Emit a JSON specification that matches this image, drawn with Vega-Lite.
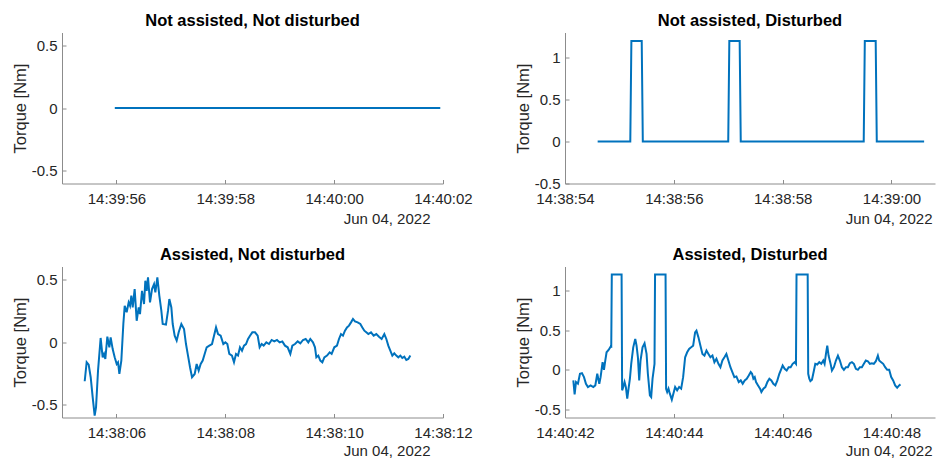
{
  "$schema": "https://vega.github.io/schema/vega-lite/v6.json",
  "background": "white",
  "padding": {"left": 12, "top": 12.5, "right": 2, "bottom": 2},
  "columns": 2,
  "align": "each",
  "bounds": "flush",
  "spacing": {"row": 83, "column": 122},
  "datasets": {
    "p1": [
      {"t": "2022-06-04T14:39:55.970", "v": 0},
      {"t": "2022-06-04T14:39:57.000", "v": 0},
      {"t": "2022-06-04T14:39:59.000", "v": 0},
      {"t": "2022-06-04T14:40:01.000", "v": 0},
      {"t": "2022-06-04T14:40:01.950", "v": 0}
    ],
    "p2": [
      {"t": "2022-06-04T14:38:54.600", "v": 0},
      {"t": "2022-06-04T14:38:55.200", "v": 0},
      {"t": "2022-06-04T14:38:55.220", "v": 1.2},
      {"t": "2022-06-04T14:38:55.410", "v": 1.2},
      {"t": "2022-06-04T14:38:55.430", "v": 0},
      {"t": "2022-06-04T14:38:57.000", "v": 0},
      {"t": "2022-06-04T14:38:57.020", "v": 1.2},
      {"t": "2022-06-04T14:38:57.210", "v": 1.2},
      {"t": "2022-06-04T14:38:57.230", "v": 0},
      {"t": "2022-06-04T14:38:59.490", "v": 0},
      {"t": "2022-06-04T14:38:59.510", "v": 1.2},
      {"t": "2022-06-04T14:38:59.710", "v": 1.2},
      {"t": "2022-06-04T14:38:59.730", "v": 0},
      {"t": "2022-06-04T14:39:00.600", "v": 0}
    ],
    "p3": [
      {"t": "2022-06-04T14:38:05.417", "v": -0.312},
      {"t": "2022-06-04T14:38:05.453", "v": -0.161},
      {"t": "2022-06-04T14:38:05.490", "v": -0.18},
      {"t": "2022-06-04T14:38:05.527", "v": -0.28},
      {"t": "2022-06-04T14:38:05.564", "v": -0.44},
      {"t": "2022-06-04T14:38:05.600", "v": -0.585},
      {"t": "2022-06-04T14:38:05.625", "v": -0.52},
      {"t": "2022-06-04T14:38:05.662", "v": -0.227},
      {"t": "2022-06-04T14:38:05.710", "v": 0.032},
      {"t": "2022-06-04T14:38:05.747", "v": -0.122},
      {"t": "2022-06-04T14:38:05.772", "v": -0.095},
      {"t": "2022-06-04T14:38:05.796", "v": -0.135},
      {"t": "2022-06-04T14:38:05.833", "v": 0.042},
      {"t": "2022-06-04T14:38:05.870", "v": -0.042},
      {"t": "2022-06-04T14:38:05.894", "v": 0.037},
      {"t": "2022-06-04T14:38:05.931", "v": -0.056},
      {"t": "2022-06-04T14:38:05.968", "v": -0.122},
      {"t": "2022-06-04T14:38:06.005", "v": -0.175},
      {"t": "2022-06-04T14:38:06.029", "v": -0.161},
      {"t": "2022-06-04T14:38:06.054", "v": -0.254},
      {"t": "2022-06-04T14:38:06.090", "v": -0.148},
      {"t": "2022-06-04T14:38:06.127", "v": 0.143},
      {"t": "2022-06-04T14:38:06.152", "v": 0.288},
      {"t": "2022-06-04T14:38:06.188", "v": 0.236},
      {"t": "2022-06-04T14:38:06.225", "v": 0.315},
      {"t": "2022-06-04T14:38:06.250", "v": 0.288},
      {"t": "2022-06-04T14:38:06.274", "v": 0.368},
      {"t": "2022-06-04T14:38:06.299", "v": 0.275},
      {"t": "2022-06-04T14:38:06.335", "v": 0.421},
      {"t": "2022-06-04T14:38:06.372", "v": 0.169},
      {"t": "2022-06-04T14:38:06.409", "v": 0.275},
      {"t": "2022-06-04T14:38:06.433", "v": 0.222},
      {"t": "2022-06-04T14:38:06.470", "v": 0.407},
      {"t": "2022-06-04T14:38:06.507", "v": 0.302},
      {"t": "2022-06-04T14:38:06.531", "v": 0.487},
      {"t": "2022-06-04T14:38:06.556", "v": 0.407},
      {"t": "2022-06-04T14:38:06.580", "v": 0.513},
      {"t": "2022-06-04T14:38:06.617", "v": 0.315},
      {"t": "2022-06-04T14:38:06.654", "v": 0.421},
      {"t": "2022-06-04T14:38:06.691", "v": 0.46},
      {"t": "2022-06-04T14:38:06.715", "v": 0.394},
      {"t": "2022-06-04T14:38:06.752", "v": 0.513},
      {"t": "2022-06-04T14:38:06.788", "v": 0.368},
      {"t": "2022-06-04T14:38:06.825", "v": 0.249},
      {"t": "2022-06-04T14:38:06.850", "v": 0.143},
      {"t": "2022-06-04T14:38:06.910", "v": 0.138},
      {"t": "2022-06-04T14:38:06.948", "v": 0.249},
      {"t": "2022-06-04T14:38:06.972", "v": 0.341},
      {"t": "2022-06-04T14:38:07.009", "v": 0.275},
      {"t": "2022-06-04T14:38:07.034", "v": 0.143},
      {"t": "2022-06-04T14:38:07.070", "v": 0.05},
      {"t": "2022-06-04T14:38:07.107", "v": 0.011},
      {"t": "2022-06-04T14:38:07.144", "v": 0.077},
      {"t": "2022-06-04T14:38:07.193", "v": 0.143},
      {"t": "2022-06-04T14:38:07.242", "v": 0.103},
      {"t": "2022-06-04T14:38:07.278", "v": -0.016},
      {"t": "2022-06-04T14:38:07.315", "v": -0.108},
      {"t": "2022-06-04T14:38:07.352", "v": -0.201},
      {"t": "2022-06-04T14:38:07.389", "v": -0.28},
      {"t": "2022-06-04T14:38:07.438", "v": -0.254},
      {"t": "2022-06-04T14:38:07.474", "v": -0.175},
      {"t": "2022-06-04T14:38:07.511", "v": -0.227},
      {"t": "2022-06-04T14:38:07.548", "v": -0.175},
      {"t": "2022-06-04T14:38:07.585", "v": -0.148},
      {"t": "2022-06-04T14:38:07.621", "v": -0.095},
      {"t": "2022-06-04T14:38:07.658", "v": -0.042},
      {"t": "2022-06-04T14:38:07.707", "v": -0.029},
      {"t": "2022-06-04T14:38:07.756", "v": -0.016},
      {"t": "2022-06-04T14:38:07.793", "v": 0.05},
      {"t": "2022-06-04T14:38:07.830", "v": 0.116},
      {"t": "2022-06-04T14:38:07.867", "v": 0.063},
      {"t": "2022-06-04T14:38:07.915", "v": 0.05},
      {"t": "2022-06-04T14:38:07.964", "v": -0.016},
      {"t": "2022-06-04T14:38:08.001", "v": -0.003},
      {"t": "2022-06-04T14:38:08.038", "v": -0.016},
      {"t": "2022-06-04T14:38:08.074", "v": -0.095},
      {"t": "2022-06-04T14:38:08.123", "v": -0.108},
      {"t": "2022-06-04T14:38:08.160", "v": -0.161},
      {"t": "2022-06-04T14:38:08.197", "v": -0.095},
      {"t": "2022-06-04T14:38:08.234", "v": -0.108},
      {"t": "2022-06-04T14:38:08.270", "v": -0.042},
      {"t": "2022-06-04T14:38:08.307", "v": -0.069},
      {"t": "2022-06-04T14:38:08.344", "v": -0.029},
      {"t": "2022-06-04T14:38:08.381", "v": -0.016},
      {"t": "2022-06-04T14:38:08.418", "v": 0.024},
      {"t": "2022-06-04T14:38:08.454", "v": 0.05},
      {"t": "2022-06-04T14:38:08.497", "v": 0.077},
      {"t": "2022-06-04T14:38:08.546", "v": 0.077},
      {"t": "2022-06-04T14:38:08.595", "v": 0.05},
      {"t": "2022-06-04T14:38:08.631", "v": -0.042},
      {"t": "2022-06-04T14:38:08.668", "v": -0.016},
      {"t": "2022-06-04T14:38:08.705", "v": -0.029},
      {"t": "2022-06-04T14:38:08.754", "v": -0.003},
      {"t": "2022-06-04T14:38:08.803", "v": -0.016},
      {"t": "2022-06-04T14:38:08.852", "v": 0.016},
      {"t": "2022-06-04T14:38:08.901", "v": 0.005},
      {"t": "2022-06-04T14:38:08.950", "v": 0.016},
      {"t": "2022-06-04T14:38:08.999", "v": -0.003},
      {"t": "2022-06-04T14:38:09.048", "v": 0.005},
      {"t": "2022-06-04T14:38:09.097", "v": -0.029},
      {"t": "2022-06-04T14:38:09.146", "v": -0.042},
      {"t": "2022-06-04T14:38:09.195", "v": -0.095},
      {"t": "2022-06-04T14:38:09.232", "v": -0.029},
      {"t": "2022-06-04T14:38:09.281", "v": -0.016},
      {"t": "2022-06-04T14:38:09.330", "v": 0.005},
      {"t": "2022-06-04T14:38:09.379", "v": -0.011},
      {"t": "2022-06-04T14:38:09.428", "v": 0.016},
      {"t": "2022-06-04T14:38:09.477", "v": 0.024},
      {"t": "2022-06-04T14:38:09.525", "v": -0.003},
      {"t": "2022-06-04T14:38:09.562", "v": 0.024},
      {"t": "2022-06-04T14:38:09.611", "v": -0.003},
      {"t": "2022-06-04T14:38:09.648", "v": -0.042},
      {"t": "2022-06-04T14:38:09.673", "v": -0.122},
      {"t": "2022-06-04T14:38:09.709", "v": -0.108},
      {"t": "2022-06-04T14:38:09.746", "v": -0.148},
      {"t": "2022-06-04T14:38:09.783", "v": -0.161},
      {"t": "2022-06-04T14:38:09.820", "v": -0.122},
      {"t": "2022-06-04T14:38:09.869", "v": -0.108},
      {"t": "2022-06-04T14:38:09.918", "v": -0.082},
      {"t": "2022-06-04T14:38:09.954", "v": -0.095},
      {"t": "2022-06-04T14:38:10.003", "v": -0.042},
      {"t": "2022-06-04T14:38:10.052", "v": -0.029},
      {"t": "2022-06-04T14:38:10.089", "v": 0.024},
      {"t": "2022-06-04T14:38:10.126", "v": 0.063},
      {"t": "2022-06-04T14:38:10.162", "v": 0.05},
      {"t": "2022-06-04T14:38:10.199", "v": 0.09},
      {"t": "2022-06-04T14:38:10.236", "v": 0.116},
      {"t": "2022-06-04T14:38:10.273", "v": 0.13},
      {"t": "2022-06-04T14:38:10.310", "v": 0.156},
      {"t": "2022-06-04T14:38:10.346", "v": 0.183},
      {"t": "2022-06-04T14:38:10.383", "v": 0.164},
      {"t": "2022-06-04T14:38:10.432", "v": 0.156},
      {"t": "2022-06-04T14:38:10.481", "v": 0.143},
      {"t": "2022-06-04T14:38:10.518", "v": 0.116},
      {"t": "2022-06-04T14:38:10.555", "v": 0.09},
      {"t": "2022-06-04T14:38:10.591", "v": 0.077},
      {"t": "2022-06-04T14:38:10.628", "v": 0.063},
      {"t": "2022-06-04T14:38:10.677", "v": 0.077},
      {"t": "2022-06-04T14:38:10.726", "v": 0.05},
      {"t": "2022-06-04T14:38:10.775", "v": 0.063},
      {"t": "2022-06-04T14:38:10.824", "v": 0.042},
      {"t": "2022-06-04T14:38:10.873", "v": 0.024},
      {"t": "2022-06-04T14:38:10.922", "v": 0.063},
      {"t": "2022-06-04T14:38:10.959", "v": 0.024},
      {"t": "2022-06-04T14:38:10.995", "v": -0.029},
      {"t": "2022-06-04T14:38:11.032", "v": -0.069},
      {"t": "2022-06-04T14:38:11.069", "v": -0.108},
      {"t": "2022-06-04T14:38:11.105", "v": -0.09},
      {"t": "2022-06-04T14:38:11.142", "v": -0.108},
      {"t": "2022-06-04T14:38:11.179", "v": -0.122},
      {"t": "2022-06-04T14:38:11.216", "v": -0.108},
      {"t": "2022-06-04T14:38:11.252", "v": -0.127},
      {"t": "2022-06-04T14:38:11.289", "v": -0.116},
      {"t": "2022-06-04T14:38:11.326", "v": -0.143},
      {"t": "2022-06-04T14:38:11.363", "v": -0.135},
      {"t": "2022-06-04T14:38:11.400", "v": -0.108}
    ],
    "p4": [
      {"t": "2022-06-04T14:40:42.153", "v": -0.133},
      {"t": "2022-06-04T14:40:42.177", "v": -0.308},
      {"t": "2022-06-04T14:40:42.202", "v": -0.154},
      {"t": "2022-06-04T14:40:42.238", "v": -0.175},
      {"t": "2022-06-04T14:40:42.275", "v": -0.05},
      {"t": "2022-06-04T14:40:42.312", "v": -0.042},
      {"t": "2022-06-04T14:40:42.349", "v": -0.092},
      {"t": "2022-06-04T14:40:42.385", "v": -0.175},
      {"t": "2022-06-04T14:40:42.422", "v": -0.217},
      {"t": "2022-06-04T14:40:42.471", "v": -0.196},
      {"t": "2022-06-04T14:40:42.520", "v": -0.217},
      {"t": "2022-06-04T14:40:42.557", "v": -0.196},
      {"t": "2022-06-04T14:40:42.593", "v": -0.05},
      {"t": "2022-06-04T14:40:42.630", "v": -0.175},
      {"t": "2022-06-04T14:40:42.654", "v": -0.092},
      {"t": "2022-06-04T14:40:42.691", "v": 0.096},
      {"t": "2022-06-04T14:40:42.716", "v": 0.0},
      {"t": "2022-06-04T14:40:42.740", "v": 0.117},
      {"t": "2022-06-04T14:40:42.764", "v": 0.221},
      {"t": "2022-06-04T14:40:42.801", "v": 0.25},
      {"t": "2022-06-04T14:40:42.838", "v": 0.292},
      {"t": "2022-06-04T14:40:42.850", "v": 0.29},
      {"t": "2022-06-04T14:40:42.860", "v": 1.2},
      {"t": "2022-06-04T14:40:43.040", "v": 1.2},
      {"t": "2022-06-04T14:40:43.050", "v": -0.258},
      {"t": "2022-06-04T14:40:43.070", "v": -0.22},
      {"t": "2022-06-04T14:40:43.095", "v": -0.154},
      {"t": "2022-06-04T14:40:43.119", "v": -0.217},
      {"t": "2022-06-04T14:40:43.144", "v": -0.363},
      {"t": "2022-06-04T14:40:43.168", "v": -0.238},
      {"t": "2022-06-04T14:40:43.193", "v": -0.112},
      {"t": "2022-06-04T14:40:43.217", "v": 0.075},
      {"t": "2022-06-04T14:40:43.254", "v": 0.283},
      {"t": "2022-06-04T14:40:43.291", "v": 0.388},
      {"t": "2022-06-04T14:40:43.315", "v": 0.304},
      {"t": "2022-06-04T14:40:43.340", "v": 0.158},
      {"t": "2022-06-04T14:40:43.364", "v": -0.133},
      {"t": "2022-06-04T14:40:43.388", "v": 0.117},
      {"t": "2022-06-04T14:40:43.425", "v": 0.283},
      {"t": "2022-06-04T14:40:43.462", "v": 0.333},
      {"t": "2022-06-04T14:40:43.499", "v": 0.2},
      {"t": "2022-06-04T14:40:43.523", "v": -0.05},
      {"t": "2022-06-04T14:40:43.560", "v": -0.321},
      {"t": "2022-06-04T14:40:43.584", "v": -0.342},
      {"t": "2022-06-04T14:40:43.609", "v": -0.112},
      {"t": "2022-06-04T14:40:43.633", "v": 0.013},
      {"t": "2022-06-04T14:40:43.645", "v": 0.075},
      {"t": "2022-06-04T14:40:43.655", "v": 1.2},
      {"t": "2022-06-04T14:40:43.848", "v": 1.2},
      {"t": "2022-06-04T14:40:43.858", "v": -0.238},
      {"t": "2022-06-04T14:40:43.878", "v": -0.279},
      {"t": "2022-06-04T14:40:43.902", "v": -0.238},
      {"t": "2022-06-04T14:40:43.927", "v": -0.3},
      {"t": "2022-06-04T14:40:43.963", "v": -0.375},
      {"t": "2022-06-04T14:40:44.000", "v": -0.279},
      {"t": "2022-06-04T14:40:44.024", "v": -0.217},
      {"t": "2022-06-04T14:40:44.061", "v": -0.258},
      {"t": "2022-06-04T14:40:44.098", "v": -0.217},
      {"t": "2022-06-04T14:40:44.135", "v": -0.238},
      {"t": "2022-06-04T14:40:44.171", "v": -0.092},
      {"t": "2022-06-04T14:40:44.208", "v": 0.158},
      {"t": "2022-06-04T14:40:44.245", "v": 0.221},
      {"t": "2022-06-04T14:40:44.281", "v": 0.263},
      {"t": "2022-06-04T14:40:44.318", "v": 0.283},
      {"t": "2022-06-04T14:40:44.355", "v": 0.304},
      {"t": "2022-06-04T14:40:44.391", "v": 0.471},
      {"t": "2022-06-04T14:40:44.416", "v": 0.492},
      {"t": "2022-06-04T14:40:44.453", "v": 0.408},
      {"t": "2022-06-04T14:40:44.489", "v": 0.304},
      {"t": "2022-06-04T14:40:44.526", "v": 0.2},
      {"t": "2022-06-04T14:40:44.563", "v": 0.179},
      {"t": "2022-06-04T14:40:44.600", "v": 0.242},
      {"t": "2022-06-04T14:40:44.636", "v": 0.2},
      {"t": "2022-06-04T14:40:44.673", "v": 0.158},
      {"t": "2022-06-04T14:40:44.710", "v": 0.179},
      {"t": "2022-06-04T14:40:44.746", "v": 0.096},
      {"t": "2022-06-04T14:40:44.783", "v": 0.138},
      {"t": "2022-06-04T14:40:44.820", "v": 0.075},
      {"t": "2022-06-04T14:40:44.856", "v": 0.033},
      {"t": "2022-06-04T14:40:44.893", "v": 0.117},
      {"t": "2022-06-04T14:40:44.930", "v": 0.158},
      {"t": "2022-06-04T14:40:44.966", "v": 0.2},
      {"t": "2022-06-04T14:40:45.003", "v": 0.117},
      {"t": "2022-06-04T14:40:45.040", "v": 0.033},
      {"t": "2022-06-04T14:40:45.076", "v": -0.029},
      {"t": "2022-06-04T14:40:45.113", "v": -0.092},
      {"t": "2022-06-04T14:40:45.150", "v": -0.083},
      {"t": "2022-06-04T14:40:45.193", "v": -0.154},
      {"t": "2022-06-04T14:40:45.230", "v": -0.133},
      {"t": "2022-06-04T14:40:45.266", "v": -0.175},
      {"t": "2022-06-04T14:40:45.303", "v": -0.133},
      {"t": "2022-06-04T14:40:45.340", "v": -0.112},
      {"t": "2022-06-04T14:40:45.377", "v": -0.071},
      {"t": "2022-06-04T14:40:45.413", "v": -0.029},
      {"t": "2022-06-04T14:40:45.438", "v": -0.05},
      {"t": "2022-06-04T14:40:45.462", "v": -0.112},
      {"t": "2022-06-04T14:40:45.487", "v": -0.092},
      {"t": "2022-06-04T14:40:45.511", "v": -0.154},
      {"t": "2022-06-04T14:40:45.548", "v": -0.196},
      {"t": "2022-06-04T14:40:45.585", "v": -0.238},
      {"t": "2022-06-04T14:40:45.609", "v": -0.279},
      {"t": "2022-06-04T14:40:45.646", "v": -0.238},
      {"t": "2022-06-04T14:40:45.682", "v": -0.217},
      {"t": "2022-06-04T14:40:45.719", "v": -0.154},
      {"t": "2022-06-04T14:40:45.756", "v": -0.112},
      {"t": "2022-06-04T14:40:45.792", "v": -0.133},
      {"t": "2022-06-04T14:40:45.829", "v": -0.175},
      {"t": "2022-06-04T14:40:45.866", "v": -0.196},
      {"t": "2022-06-04T14:40:45.903", "v": -0.133},
      {"t": "2022-06-04T14:40:45.939", "v": -0.05},
      {"t": "2022-06-04T14:40:45.976", "v": 0.013},
      {"t": "2022-06-04T14:40:46.000", "v": 0.054},
      {"t": "2022-06-04T14:40:46.037", "v": 0.013},
      {"t": "2022-06-04T14:40:46.074", "v": -0.008},
      {"t": "2022-06-04T14:40:46.110", "v": 0.033},
      {"t": "2022-06-04T14:40:46.147", "v": 0.033},
      {"t": "2022-06-04T14:40:46.184", "v": 0.075},
      {"t": "2022-06-04T14:40:46.221", "v": 0.096},
      {"t": "2022-06-04T14:40:46.245", "v": 0.075},
      {"t": "2022-06-04T14:40:46.255", "v": 1.2},
      {"t": "2022-06-04T14:40:46.460", "v": 1.2},
      {"t": "2022-06-04T14:40:46.470", "v": -0.05},
      {"t": "2022-06-04T14:40:46.490", "v": -0.112},
      {"t": "2022-06-04T14:40:46.510", "v": -0.142},
      {"t": "2022-06-04T14:40:46.539", "v": -0.125},
      {"t": "2022-06-04T14:40:46.575", "v": -0.008},
      {"t": "2022-06-04T14:40:46.600", "v": 0.075},
      {"t": "2022-06-04T14:40:46.636", "v": 0.067},
      {"t": "2022-06-04T14:40:46.673", "v": 0.096},
      {"t": "2022-06-04T14:40:46.710", "v": 0.075},
      {"t": "2022-06-04T14:40:46.747", "v": 0.117},
      {"t": "2022-06-04T14:40:46.771", "v": 0.075},
      {"t": "2022-06-04T14:40:46.796", "v": 0.2},
      {"t": "2022-06-04T14:40:46.820", "v": 0.304},
      {"t": "2022-06-04T14:40:46.844", "v": 0.179},
      {"t": "2022-06-04T14:40:46.881", "v": 0.075},
      {"t": "2022-06-04T14:40:46.906", "v": -0.008},
      {"t": "2022-06-04T14:40:46.942", "v": 0.033},
      {"t": "2022-06-04T14:40:46.979", "v": 0.117},
      {"t": "2022-06-04T14:40:47.016", "v": 0.179},
      {"t": "2022-06-04T14:40:47.052", "v": 0.117},
      {"t": "2022-06-04T14:40:47.089", "v": 0.033},
      {"t": "2022-06-04T14:40:47.126", "v": 0.0},
      {"t": "2022-06-04T14:40:47.163", "v": 0.033},
      {"t": "2022-06-04T14:40:47.199", "v": 0.033},
      {"t": "2022-06-04T14:40:47.236", "v": 0.083},
      {"t": "2022-06-04T14:40:47.273", "v": 0.096},
      {"t": "2022-06-04T14:40:47.309", "v": 0.075},
      {"t": "2022-06-04T14:40:47.346", "v": 0.013},
      {"t": "2022-06-04T14:40:47.383", "v": 0.0},
      {"t": "2022-06-04T14:40:47.419", "v": 0.033},
      {"t": "2022-06-04T14:40:47.456", "v": 0.033},
      {"t": "2022-06-04T14:40:47.493", "v": 0.075},
      {"t": "2022-06-04T14:40:47.529", "v": 0.117},
      {"t": "2022-06-04T14:40:47.566", "v": 0.108},
      {"t": "2022-06-04T14:40:47.603", "v": 0.075},
      {"t": "2022-06-04T14:40:47.640", "v": 0.083},
      {"t": "2022-06-04T14:40:47.676", "v": 0.075},
      {"t": "2022-06-04T14:40:47.713", "v": 0.108},
      {"t": "2022-06-04T14:40:47.750", "v": 0.179},
      {"t": "2022-06-04T14:40:47.774", "v": 0.117},
      {"t": "2022-06-04T14:40:47.811", "v": 0.096},
      {"t": "2022-06-04T14:40:47.848", "v": 0.075},
      {"t": "2022-06-04T14:40:47.884", "v": 0.033},
      {"t": "2022-06-04T14:40:47.921", "v": 0.0},
      {"t": "2022-06-04T14:40:47.958", "v": 0.0},
      {"t": "2022-06-04T14:40:47.995", "v": -0.092},
      {"t": "2022-06-04T14:40:48.031", "v": -0.133},
      {"t": "2022-06-04T14:40:48.068", "v": -0.196},
      {"t": "2022-06-04T14:40:48.105", "v": -0.225},
      {"t": "2022-06-04T14:40:48.141", "v": -0.196},
      {"t": "2022-06-04T14:40:48.166", "v": -0.183}
    ]
  },
  "config": {
    "font": "Liberation Sans",
    "locale": {"number": {"decimal": ".", "thousands": ",", "grouping": [3], "currency": ["$", ""], "minus": "-"}},
    "view": {"stroke": null},
    "axis": {
      "grid": false,
      "domainColor": "#8c8c8c",
      "tickColor": "#8c8c8c",
      "tickSize": -4,
      "labelFontSize": 15,
      "labelColor": "#262626",
      "labelFlush": false,
      "labelOverlap": false,
      "titleFontSize": 16.5,
      "titleFontWeight": "normal",
      "titleColor": "#262626"
    },
    "axisX": {
      "labelBaseline": "alphabetic",
      "labelPadding": 24,
      "titleFontSize": 15,
      "titleAlign": "right",
      "titleBaseline": "alphabetic",
      "titleX": 368,
      "titleY": 40
    },
    "axisY": {
      "labelPadding": 9,
      "titleAngle": -90,
      "titleBaseline": "middle",
      "titleAlign": "center",
      "titleX": -42,
      "titleY": 75.5
    },
    "title": {
      "fontSize": 16.5,
      "fontWeight": "bold",
      "color": "#000000",
      "baseline": "alphabetic",
      "offset": 3,
      "frame": "group",
      "anchor": "middle"
    },
    "line": {"color": "#0072BD", "strokeWidth": 2}
  },
  "concat": [
    {
      "width": 381,
      "height": 151,
      "title": "Not assisted, Not disturbed",
      "data": {"name": "p1"},
      "mark": {"type": "line"},
      "encoding": {
        "x": {
          "field": "t", "type": "temporal",
          "scale": {"domain": [{"year": 2022, "month": 6, "date": 4, "hours": 14, "minutes": 39, "seconds": 55}, {"year": 2022, "month": 6, "date": 4, "hours": 14, "minutes": 40, "seconds": 2}], "nice": false},
          "axis": {
            "format": "%H:%M:%S", "title": "Jun 04, 2022",
            "values": [
              {"year": 2022, "month": 6, "date": 4, "hours": 14, "minutes": 39, "seconds": 56},
              {"year": 2022, "month": 6, "date": 4, "hours": 14, "minutes": 39, "seconds": 58},
              {"year": 2022, "month": 6, "date": 4, "hours": 14, "minutes": 40, "seconds": 0},
              {"year": 2022, "month": 6, "date": 4, "hours": 14, "minutes": 40, "seconds": 2}
            ]
          }
        },
        "y": {
          "field": "v", "type": "quantitative",
          "scale": {"domain": [-0.6, 0.6], "nice": false, "zero": false},
          "axis": {"values": [-0.5, 0, 0.5], "format": "~g", "title": "Torque [Nm]"}
        }
      }
    },
    {
      "width": 370,
      "height": 151,
      "title": "Not assisted, Disturbed",
      "data": {"name": "p2"},
      "mark": {"type": "line"},
      "encoding": {
        "x": {
          "field": "t", "type": "temporal",
          "scale": {"domain": [{"year": 2022, "month": 6, "date": 4, "hours": 14, "minutes": 38, "seconds": 54}, {"year": 2022, "month": 6, "date": 4, "hours": 14, "minutes": 39, "seconds": 0, "milliseconds": 800}], "nice": false},
          "axis": {
            "format": "%H:%M:%S", "title": "Jun 04, 2022", "titleX": 367,
            "values": [
              {"year": 2022, "month": 6, "date": 4, "hours": 14, "minutes": 38, "seconds": 54},
              {"year": 2022, "month": 6, "date": 4, "hours": 14, "minutes": 38, "seconds": 56},
              {"year": 2022, "month": 6, "date": 4, "hours": 14, "minutes": 38, "seconds": 58},
              {"year": 2022, "month": 6, "date": 4, "hours": 14, "minutes": 39, "seconds": 0}
            ]
          }
        },
        "y": {
          "field": "v", "type": "quantitative",
          "scale": {"domain": [-0.5, 1.3], "nice": false, "zero": false},
          "axis": {"values": [-0.5, 0, 0.5, 1], "format": "~g", "title": "Torque [Nm]"}
        }
      }
    },
    {
      "width": 381,
      "height": 151,
      "title": "Assisted, Not disturbed",
      "data": {"name": "p3"},
      "mark": {"type": "line"},
      "encoding": {
        "x": {
          "field": "t", "type": "temporal",
          "scale": {"domain": [{"year": 2022, "month": 6, "date": 4, "hours": 14, "minutes": 38, "seconds": 5}, {"year": 2022, "month": 6, "date": 4, "hours": 14, "minutes": 38, "seconds": 12}], "nice": false},
          "axis": {
            "format": "%H:%M:%S", "title": "Jun 04, 2022", "titleY": 37.5,
            "values": [
              {"year": 2022, "month": 6, "date": 4, "hours": 14, "minutes": 38, "seconds": 6},
              {"year": 2022, "month": 6, "date": 4, "hours": 14, "minutes": 38, "seconds": 8},
              {"year": 2022, "month": 6, "date": 4, "hours": 14, "minutes": 38, "seconds": 10},
              {"year": 2022, "month": 6, "date": 4, "hours": 14, "minutes": 38, "seconds": 12}
            ]
          }
        },
        "y": {
          "field": "v", "type": "quantitative",
          "scale": {"domain": [-0.6, 0.6], "nice": false, "zero": false},
          "axis": {"values": [-0.5, 0, 0.5], "format": "~g", "title": "Torque [Nm]"}
        }
      }
    },
    {
      "width": 370,
      "height": 151,
      "title": "Assisted, Disturbed",
      "data": {"name": "p4"},
      "mark": {"type": "line"},
      "encoding": {
        "x": {
          "field": "t", "type": "temporal",
          "scale": {"domain": [{"year": 2022, "month": 6, "date": 4, "hours": 14, "minutes": 40, "seconds": 42}, {"year": 2022, "month": 6, "date": 4, "hours": 14, "minutes": 40, "seconds": 48, "milliseconds": 800}], "nice": false},
          "axis": {
            "format": "%H:%M:%S", "title": "Jun 04, 2022", "titleX": 367, "titleY": 37.5,
            "values": [
              {"year": 2022, "month": 6, "date": 4, "hours": 14, "minutes": 40, "seconds": 42},
              {"year": 2022, "month": 6, "date": 4, "hours": 14, "minutes": 40, "seconds": 44},
              {"year": 2022, "month": 6, "date": 4, "hours": 14, "minutes": 40, "seconds": 46},
              {"year": 2022, "month": 6, "date": 4, "hours": 14, "minutes": 40, "seconds": 48}
            ]
          }
        },
        "y": {
          "field": "v", "type": "quantitative",
          "scale": {"domain": [-0.6, 1.3], "nice": false, "zero": false},
          "axis": {"values": [-0.5, 0, 0.5, 1], "format": "~g", "title": "Torque [Nm]"}
        }
      }
    }
  ]
}
